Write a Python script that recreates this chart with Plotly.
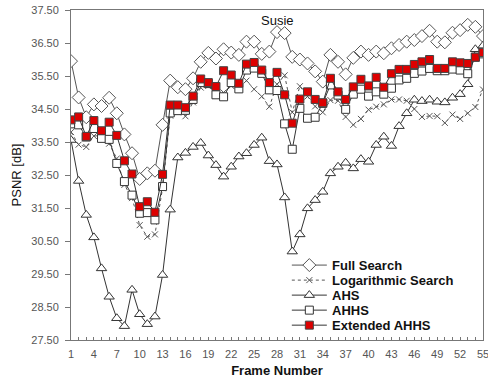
import plotly.graph_objects as go

frames = list(range(1, 56))

full_search = [35.95, 34.85, 34.25, 34.64, 34.59, 34.84, 34.37, 33.73, 33.16, 32.38,
               32.55, 32.63, 34.02, 35.36, 35.16, 35.10, 35.43, 35.93, 36.20, 36.03,
               36.31, 36.21, 36.14, 36.54, 36.54, 36.17, 36.24, 36.83, 36.80, 36.08,
               36.00, 35.88, 35.64, 35.33, 36.14, 35.93, 35.55, 36.05, 36.24, 36.14,
               36.24, 36.19, 36.34, 36.44, 36.54, 36.59, 36.71, 36.87, 36.54, 36.52,
               36.81, 36.89, 37.05, 36.99, 36.71]

log_search = [33.80, 33.42, 33.35, 33.68, 33.70, 33.45, 33.00, 32.20, 31.80, 30.98,
              30.63, 30.70, 32.10, 34.30, 34.40, 34.28, 34.70, 35.15, 35.20, 34.90,
              35.00, 35.20, 35.10, 35.36, 35.10, 34.88, 34.57, 35.25, 35.52, 34.40,
              35.19, 34.88, 34.58, 34.40, 34.77, 34.75, 34.26, 34.02, 34.20, 34.48,
              34.57, 34.64, 34.79, 34.79, 34.75, 34.50, 34.26, 34.29, 34.28, 34.08,
              34.33, 34.20, 34.37, 34.56, 35.09]

ahs = [33.56, 32.32, 31.29, 30.61, 29.67, 28.81, 28.16, 27.92, 29.02, 28.28,
       27.98, 28.21, 29.47, 31.45, 33.03, 33.17, 33.35, 33.47, 33.09, 32.80,
       32.45, 32.75, 33.06, 33.16, 33.41, 33.63, 32.92, 32.82, 31.82, 30.18,
       30.70, 31.49, 31.74, 31.99, 32.55, 32.75, 32.87, 32.70, 32.98, 32.90,
       33.41, 33.66, 33.38, 33.98, 34.37, 34.78, 34.74, 34.78, 34.72, 34.70,
       34.84, 34.95, 35.25, 36.31, 36.42]

ahhs = [34.05, 34.02, 33.65, 33.91, 33.61, 33.58, 32.85, 32.30, 31.89, 31.34,
        31.36, 31.14, 32.15, 34.38, 34.45, 34.46, 34.79, 35.30, 35.27, 34.93,
        34.87, 35.30, 35.11, 35.68, 35.74, 35.58, 35.08, 35.06, 34.05, 33.28,
        34.52, 34.22, 34.25, 34.67, 35.23, 34.92, 34.49, 34.95, 35.10, 34.89,
        35.02, 34.95, 35.13, 35.38, 35.43, 35.58, 35.65, 35.73, 35.66, 35.66,
        35.71, 35.68, 35.57, 36.07, 36.17]

ext_ahhs = [34.17, 34.26, 33.67, 34.15, 33.84, 34.10, 33.70, 32.93, 32.53, 31.54,
            31.69, 31.37, 32.52, 34.62, 34.62, 34.54, 34.89, 35.41, 35.30, 35.18,
            35.66, 35.53, 35.28, 35.86, 35.91, 35.68, 35.30, 35.61, 34.93, 34.07,
            34.80, 35.02, 34.79, 34.69, 35.43, 35.02, 34.79, 35.17, 35.40, 35.20,
            35.46, 35.16, 35.57, 35.70, 35.70, 35.85, 35.93, 36.00, 35.73, 35.73,
            35.93, 35.90, 35.88, 36.07, 36.21]

series_names = ["Full Search", "Logarithmic Search", "AHS", "AHHS", "Extended AHHS"]
x_ticks = list(range(1, 56, 3))
y_ticks = [27.5 + i for i in range(11)]
y_tick_text = [f"{v:.2f}" for v in y_ticks]

FONT = "Liberation Sans, Arial, sans-serif"
LINE = "#333333"
GRAY = "#555555"

styles = [
    dict(line=dict(color=GRAY, width=1),
         marker=dict(symbol="diamond", size=10, color="white", line=dict(color=GRAY, width=1))),
    dict(line=dict(color=GRAY, width=1, dash="dot"),
         marker=dict(symbol="x-thin", size=6, color=GRAY, line=dict(color=GRAY, width=1))),
    dict(line=dict(color=LINE, width=1),
         marker=dict(symbol="triangle-up", size=9, color="white", line=dict(color=LINE, width=1))),
    dict(line=dict(color=LINE, width=1),
         marker=dict(symbol="square", size=8, color="white", line=dict(color=LINE, width=1))),
    dict(line=dict(color=LINE, width=1),
         marker=dict(symbol="square", size=8, color="#dd0000", line=dict(color="#444444", width=1))),
]
all_series = [full_search, log_search, ahs, ahhs, ext_ahhs]

fig = go.Figure()
for name, vals, st in zip(series_names, all_series, styles):
    fig.add_trace(go.Scatter(x=frames, y=vals, name=name, mode="lines+markers",
                             showlegend=False, **st))

# Hand-built compact legend (inside the plot, lower right), on an overlay axis in 0..1 units
leg_x0, leg_x1 = 0.536, 0.621
leg_text_x = 0.628
leg_y_top, leg_step = 0.227, 0.0455
annotations = []
for i, (name, st) in enumerate(zip(series_names, styles)):
    yy = leg_y_top - i * leg_step
    ls = dict(st["line"])
    if ls.get("dash") == "dot":
        ls["dash"] = "3px,3px"
    fig.add_trace(go.Scatter(x=[leg_x0, leg_x1], y=[yy, yy], mode="lines", line=ls,
                             xaxis="x2", yaxis="y2", showlegend=False, hoverinfo="skip"))
    fig.add_trace(go.Scatter(x=[(leg_x0 + leg_x1) / 2], y=[yy], mode="markers", marker=st["marker"],
                             xaxis="x2", yaxis="y2", showlegend=False, hoverinfo="skip"))
    annotations.append(dict(text=f"<b>{name}</b>", x=leg_text_x, y=yy, xref="x2", yref="y2",
                            xanchor="left", yanchor="middle", showarrow=False,
                            font=dict(family=FONT, size=13, color="#111111")))

annotations.append(dict(
    text="Susie", x=0.5, y=0.998, xref="paper", yref="paper",
    xanchor="center", yanchor="top", showarrow=False,
    font=dict(family=FONT, size=13, color="#111111"),
))

fig.update_layout(
    width=488, height=382,
    margin=dict(l=71, r=5, t=10, b=42, autoexpand=False),
    paper_bgcolor="white", plot_bgcolor="white",
    font=dict(family=FONT, size=11, color="#333333"),
    showlegend=False,
    annotations=annotations,
    xaxis2=dict(overlaying="x", range=[0, 1], visible=False, fixedrange=True),
    yaxis2=dict(overlaying="y", range=[0, 1], visible=False, fixedrange=True),
)

fig.layout.xaxis.update(
    range=[1, 55], tickvals=x_ticks, ticktext=[str(v) for v in x_ticks],
    showline=True, linecolor="#777777", linewidth=1, mirror=True,
    ticks="inside", ticklen=3, tickcolor="#777777",
    minor=dict(dtick=1, tick0=1, ticks="inside", ticklen=3, tickcolor="#777777"),
    showgrid=False, zeroline=False, automargin=False, ticklabeloverflow="allow",
    ticklabelstandoff=4,
    tickfont=dict(family=FONT, size=11, color="#555555"),
    title=dict(text="<b>Frame Number</b>", font=dict(family=FONT, size=13, color="#111111"), standoff=6),
)
fig.layout.yaxis.update(
    range=[27.5, 37.5], tickvals=y_ticks, ticktext=y_tick_text,
    showline=True, linecolor="#777777", linewidth=1, mirror=True,
    ticks="outside", ticklen=5, tickcolor="#777777",
    showgrid=False, zeroline=False, automargin=False, ticklabeloverflow="allow",
    ticklabelstandoff=4,
    tickfont=dict(family=FONT, size=11, color="#555555"),
    title=dict(text="PSNR [dB]", font=dict(family=FONT, size=13, color="#111111"), standoff=6),
)

fig.write_html("out.html", config={"displayModeBar": False},
               post_script="document.body.style.margin='0';document.body.style.padding='0';")
